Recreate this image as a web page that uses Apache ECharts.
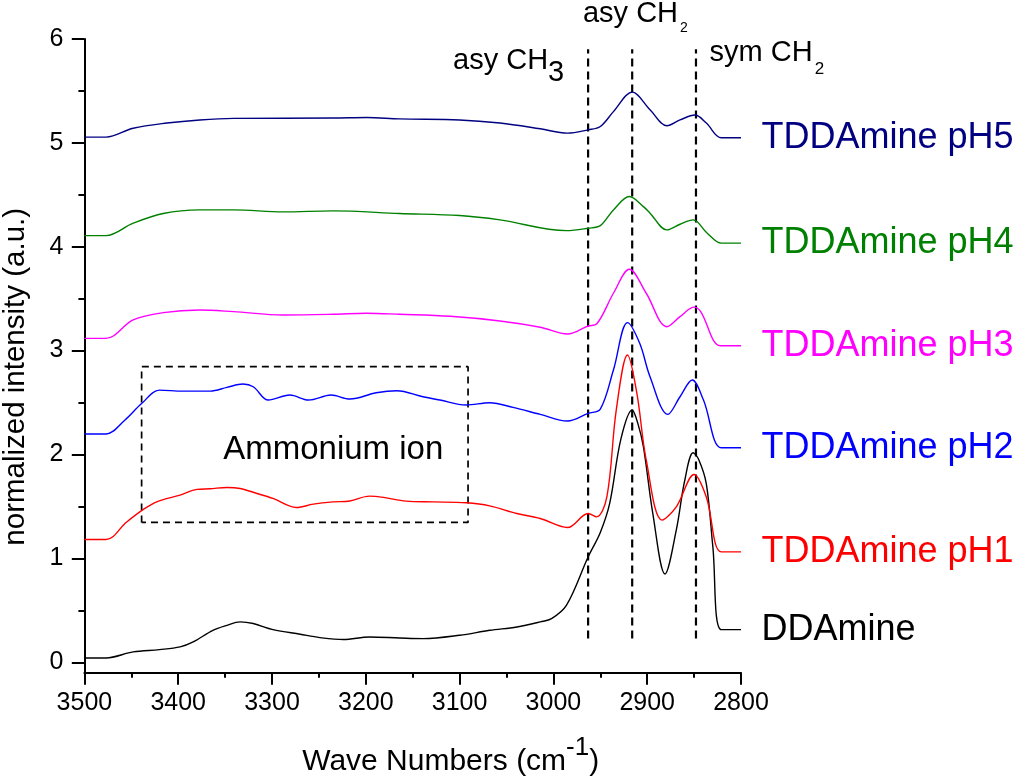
<!DOCTYPE html>
<html><head><meta charset="utf-8">
<script src="https://cdn.jsdelivr.net/npm/echarts@6/dist/echarts.min.js"></script>
<style>html,body{margin:0;padding:0;background:#fff}#c{width:1024px;height:781px}</style>
</head><body><div id="c"></div>
<script>
const seriesNames = ['DDAmine', 'TDDAmine pH1', 'TDDAmine pH2', 'TDDAmine pH3', 'TDDAmine pH4', 'TDDAmine pH5'];
const seriesColors = ['#000000', '#ff0000', '#0000ff', '#ff00ff', '#008000', '#000080'];

const ddamine = [[3500,0.042],[3477,0.042],[3448,0.10],[3420,0.122],[3398,0.148],[3384,0.196],[3363,0.308],[3348,0.356],[3334,0.389],[3320,0.373],[3299,0.315],[3270,0.27],[3249,0.238],[3224,0.219],[3196,0.244],[3164,0.234],[3139,0.228],[3100,0.26],[3068,0.308],[3039,0.34],[3014,0.389],[3002,0.42],[2986,0.55],[2963,1.014],[2950,1.25],[2940,1.529],[2928,2.15],[2916,2.428],[2910,2.3],[2904,2.074],[2894,1.432],[2881,0.85],[2869,1.272],[2860,1.75],[2851,2.017],[2845,1.95],[2837,1.72],[2830,1.111],[2821,0.315],[2800,0.315]];
const ph1 = [[3500,1.182],[3477,1.182],[3455,1.35],[3439,1.46],[3423,1.545],[3398,1.609],[3380,1.664],[3366,1.67],[3348,1.683],[3334,1.673],[3316,1.625],[3299,1.577],[3274,1.49],[3256,1.522],[3235,1.544],[3217,1.553],[3196,1.599],[3181,1.587],[3157,1.551],[3128,1.544],[3093,1.535],[3068,1.506],[3039,1.432],[3014,1.384],[2985,1.297],[2963,1.432],[2954,1.40],[2943,1.592],[2933,2.428],[2921,2.958],[2911,2.589],[2901,1.946],[2884,1.368],[2869,1.496],[2850,1.808],[2837,1.592],[2821,1.063],[2800,1.063]];
const ph2 = [[3500,2.197],[3477,2.197],[3457,2.33],[3439,2.49],[3420,2.62],[3395,2.61],[3366,2.61],[3348,2.646],[3331,2.678],[3320,2.652],[3304,2.524],[3281,2.572],[3261,2.524],[3237,2.572],[3217,2.534],[3189,2.594],[3167,2.614],[3139,2.556],[3121,2.524],[3093,2.476],[3068,2.498],[3043,2.454],[3014,2.386],[2985,2.322],[2963,2.396],[2950,2.437],[2936,2.813],[2921,3.269],[2908,3.07],[2897,2.749],[2878,2.386],[2865,2.556],[2852,2.717],[2840,2.524],[2821,2.065],[2800,2.065]];
const ph3 = [[3500,3.118],[3477,3.118],[3448,3.295],[3416,3.365],[3377,3.391],[3341,3.375],[3288,3.343],[3235,3.35],[3199,3.36],[3164,3.35],[3110,3.33],[3057,3.285],[3014,3.225],[2985,3.16],[2963,3.237],[2954,3.256],[2936,3.552],[2919,3.783],[2901,3.552],[2879,3.23],[2865,3.327],[2850,3.418],[2843,3.375],[2822,3.047],[2800,3.047]];
const ph4 = [[3500,4.107],[3477,4.107],[3448,4.226],[3416,4.32],[3377,4.354],[3341,4.354],[3288,4.335],[3235,4.345],[3164,4.32],[3100,4.30],[3057,4.258],[2986,4.155],[2963,4.178],[2950,4.203],[2936,4.354],[2919,4.483],[2904,4.386],[2897,4.323],[2879,4.162],[2865,4.216],[2851,4.258],[2836,4.13],[2821,4.034],[2800,4.034]];
const ph5 = [[3500,5.055],[3477,5.055],[3448,5.14],[3412,5.19],[3377,5.22],[3341,5.235],[3235,5.238],[3199,5.244],[3164,5.23],[3100,5.22],[3057,5.19],[3014,5.135],[2985,5.093],[2963,5.125],[2950,5.157],[2936,5.30],[2916,5.488],[2897,5.318],[2879,5.164],[2865,5.22],[2849,5.267],[2837,5.19],[2821,5.048],[2800,5.048]];
const spectra = [ddamine, ph1, ph2, ph3, ph4, ph5];

const yTickValues = [0, 1, 2, 3, 4, 5, 6];
const yMinorTickValues = [0.5, 1.5, 2.5, 3.5, 4.5, 5.5];
const peakLines = [2963, 2916, 2848];
const peakLineRange = [0.23, 5.9];
const boxX = [3439, 3091];
const boxY = [1.346, 2.845];

const annotationTexts = [
  {text: '{m|asy CH}{big|3}', at: [3107, 5.79]},
  {text: '{m|asy CH}{s|2}', at: [2968.5, 6.24]},
  {text: '{m|sym CH}{s2|2}', at: [2833.5, 5.865]},
  {text: '{m|Ammonium ion}', at: [3352, 2.04]}
];

const font = "'Liberation Sans', Arial, Helvetica, sans-serif";

const chart = echarts.init(document.getElementById('c'));

const series = spectra.map((d, i) => ({
  name: seriesNames[i], type: 'line', data: d, showSymbol: false, smooth: 0.35,
  lineStyle: {color: seriesColors[i], width: 1.4}, itemStyle: {color: seriesColors[i]},
  markPoint: {
    symbol: 'circle', symbolSize: 1, silent: true, itemStyle: {color: 'rgba(0,0,0,0)'},
    label: {show: true, position: 'right', distance: 20, offset: [0, 0], formatter: seriesNames[i],
      fontSize: 36, fontFamily: font, color: seriesColors[i]},
    data: [{coord: d[d.length - 1]}]
  },
  z: 3
}));

const markerData = [];
peakLines.forEach((x, i) => {
  if (i > 0) markerData.push([x, null]);
  markerData.push([x, peakLineRange[0]], [x, peakLineRange[1]]);
});
series.push({
  name: 'markers', type: 'line', data: markerData, showSymbol: false, connectNulls: false,
  lineStyle: {color: '#000', width: 2.2, type: [8, 5]}, silent: true, z: 2
});
series.push({
  name: 'box', type: 'line', showSymbol: false, silent: true, z: 2,
  data: [[boxX[0], boxY[0]], [boxX[0], boxY[1]], [boxX[1], boxY[1]], [boxX[1], boxY[0]], [boxX[0], boxY[0]]],
  lineStyle: {color: '#000', width: 1.7, type: [7, 5]}
});

const option = {
  animation: false,
  backgroundColor: '#fff',
  grid: {left: 84.4, right: 283, top: 38.9, bottom: 108.3, containLabel: false, outerBoundsMode: 'none'},
  xAxis: {
    type: 'value', inverse: true, min: 2800, max: 3500, interval: 100,
    name: '{a|Wave Numbers (cm}{sup|-1}{a|)}', nameLocation: 'middle', nameGap: 74,
    nameTextStyle: {padding: [0, 0, 0, 76], rich: {
      a: {fontSize: 30, fontFamily: font, color: '#000', lineHeight: 30},
      sup: {fontSize: 26, fontFamily: font, color: '#000', lineHeight: 26, padding: [0, 0, 28, 0]}
    }},
    axisLine: {show: true, onZero: false, lineStyle: {color: '#000', width: 2}},
    axisTick: {show: true, length: 12, lineStyle: {color: '#000', width: 2}},
    minorTick: {show: true, splitNumber: 2, length: 5, lineStyle: {color: '#000', width: 2}},
    axisLabel: {fontSize: 25, fontFamily: font, color: '#000', margin: 18, formatter: v => String(v)},
    splitLine: {show: false}, minorSplitLine: {show: false}
  },
  yAxis: [{
    type: 'value', min: -0.1, max: 6,
    name: 'normalized intensity (a.u.)', nameLocation: 'middle', nameGap: 54,
    nameTextStyle: {fontSize: 29.5, fontFamily: font, color: '#000', padding: [0, 42, 0, 0]},
    axisLine: {show: true, onZero: false, lineStyle: {color: '#000', width: 2}},
    axisTick: {show: true, length: 12.6, customValues: yTickValues, lineStyle: {color: '#000', width: 2}},
    axisLabel: {fontSize: 25, fontFamily: font, color: '#000', margin: 21, customValues: yTickValues, formatter: v => String(v)},
    splitLine: {show: false}
  }, {
    type: 'value', min: -0.1, max: 6, position: 'left',
    axisLine: {show: false},
    axisTick: {show: true, length: 6, customValues: yMinorTickValues, lineStyle: {color: '#000', width: 2}},
    axisLabel: {show: false},
    splitLine: {show: false}
  }],
  series: series
};
chart.setOption(option);

const rich = {
  m: {fontSize: 29, fontFamily: font, color: '#000', lineHeight: 29},
  big: {fontSize: 29, fontFamily: font, color: '#000', lineHeight: 29, padding: [24, 0, 0, 0]},
  s: {fontSize: 14, fontFamily: font, color: '#000', lineHeight: 14, padding: [28, 0, 0, 2]},
  s2: {fontSize: 17, fontFamily: font, color: '#000', lineHeight: 17, padding: [32, 0, 0, 2]}
};
const graphics = annotationTexts.map(a => {
  const p = chart.convertToPixel({gridIndex: 0}, a.at);
  return {type: 'text', x: p[0], y: p[1], silent: true, z: 10,
    style: {text: a.text, rich: rich, textAlign: 'left', textVerticalAlign: 'middle', fill: '#000'}};
});
graphics[3].style.rich = Object.assign({}, rich, {m: {fontSize: 33, fontFamily: font, color: '#000', lineHeight: 33}});
chart.setOption({graphic: graphics});
</script></body></html>
